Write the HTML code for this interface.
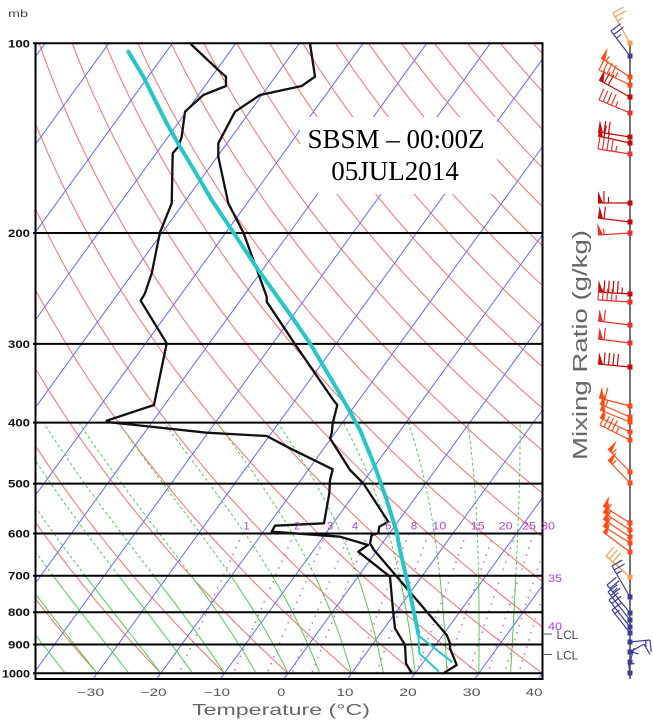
<!DOCTYPE html>
<html><head><meta charset="utf-8">
<style>html,body{margin:0;padding:0;background:#fff;}svg{display:block}</style>
</head>
<body>
<svg id="s" width="653" height="722" viewBox="0 0 653 722" xmlns="http://www.w3.org/2000/svg" font-family="Liberation Sans, DejaVu Sans, sans-serif">
<rect width="653" height="722" fill="#fff"/>
<defs><clipPath id="pc"><rect x="35" y="43" width="508" height="636"/></clipPath></defs>
<g id="bg" clip-path="url(#pc)" fill="none"></g>
<rect x="300" y="117" width="197" height="77" fill="#fff"/>

<g stroke="#000" stroke-width="2" fill="none">
<line x1="33" y1="43.3" x2="543" y2="43.3"/>
<line x1="33" y1="233" x2="543" y2="233"/>
<line x1="33" y1="343.9" x2="543" y2="343.9"/>
<line x1="33" y1="422.6" x2="543" y2="422.6"/>
<line x1="33" y1="483.6" x2="543" y2="483.6"/>
<line x1="33" y1="533.5" x2="543" y2="533.5"/>
<line x1="33" y1="575.7" x2="543" y2="575.7"/>
<line x1="33" y1="612.2" x2="543" y2="612.2"/>
<line x1="33" y1="644.5" x2="543" y2="644.5"/>
<line x1="33" y1="673.3" x2="543" y2="673.3"/>
<line x1="35" y1="679" x2="543" y2="679"/>
<line x1="35.5" y1="42.3" x2="35.5" y2="680"/>
<line x1="542.5" y1="42.3" x2="542.5" y2="680"/>
</g>

<g fill="none" stroke-linejoin="round" stroke-linecap="round">
<polyline stroke="#111" stroke-width="2.3" points="310,43.3 315,76.7 301.7,86 260,95 235,111.7 218.3,143.3 218.3,156.7 228.3,203.3 243.3,232.3 266.7,296.7 266.7,301.7 296.7,346.7 333.3,400 337.3,405 332.7,423.3 331.7,433.3 330,438.3 350,470 363.3,483.3 388.3,521.7 379.3,526.7 378.3,533.3 371.7,535 370,543.3 374,550 446.7,635 450,643.3 450,648.3 456.7,665 443.3,673.3"/>
<polyline stroke="#111" stroke-width="2.3" points="190,43.3 218.3,70 226,76.7 226,86 203.3,95 185,111.7 181.7,136.7 178.3,146.7 172.7,153.3 171.7,203.3 160,232.3 151.7,273.3 145,293.3 140.7,300.7 166.7,343.3 155,400 154,405 106.7,420.7 110,422.3 206.7,432.7 266.7,436 290,448.3 332.7,469.3 330,480 329.3,493.3 324,523.3 275,525.7 271.7,531.7 340,536.7 368,545 358.3,551.7 390,576.7 393.3,613.3 395,628.3 405,645 406,663.3 411.7,673.3"/>
<polyline stroke="#26c6c8" stroke-width="4" points="128.3,51.7 143.3,76.7 166.7,123.3 180,146.7 200,180 211.7,200 233.3,232.3 258.3,270 291.7,316.7 310,343.3 331.7,380 343.3,400 350,411.7 360,430 375,466.7 386.7,500 396.7,532 400,550 410,593.3 418.3,633.3"/>
<polyline stroke="#26c6c8" stroke-width="2" points="418.3,633.3 419.3,653.3 438.3,671"/>
<polyline stroke="#26c6c8" stroke-width="2" points="419,636 451.7,661.7"/>
</g>

<text x="396" y="148" font-family="Liberation Serif, serif" font-size="27" text-anchor="middle" fill="#000">SBSM – 00:00Z</text>
<text x="395" y="180" font-family="Liberation Serif, serif" font-size="27" text-anchor="middle" fill="#000">05JUL2014</text>

<g font-size="11" font-weight="bold" fill="#111" text-anchor="end">
<text x="30" y="47.5" textLength="22" lengthAdjust="spacingAndGlyphs">100</text>
<text x="30" y="237" textLength="22" lengthAdjust="spacingAndGlyphs">200</text>
<text x="30" y="348" textLength="22" lengthAdjust="spacingAndGlyphs">300</text>
<text x="30" y="426.6" textLength="22" lengthAdjust="spacingAndGlyphs">400</text>
<text x="30" y="487.6" textLength="22" lengthAdjust="spacingAndGlyphs">500</text>
<text x="30" y="537.5" textLength="22" lengthAdjust="spacingAndGlyphs">600</text>
<text x="30" y="579.7" textLength="22" lengthAdjust="spacingAndGlyphs">700</text>
<text x="30" y="616.2" textLength="22" lengthAdjust="spacingAndGlyphs">800</text>
<text x="30" y="648.5" textLength="22" lengthAdjust="spacingAndGlyphs">900</text>
<text x="30" y="677.3" textLength="28" lengthAdjust="spacingAndGlyphs">1000</text>
</g>
<text x="8" y="17" font-size="10" fill="#444" textLength="20" lengthAdjust="spacingAndGlyphs">mb</text>

<g font-size="11" fill="#555" text-anchor="middle">
<text x="90.7" y="696" textLength="27" lengthAdjust="spacingAndGlyphs">−30</text>
<text x="153.7" y="696" textLength="26" lengthAdjust="spacingAndGlyphs">−20</text>
<text x="217" y="696" textLength="26" lengthAdjust="spacingAndGlyphs">−10</text>
<text x="281.3" y="696" textLength="8" lengthAdjust="spacingAndGlyphs">0</text>
<text x="345" y="696" textLength="17" lengthAdjust="spacingAndGlyphs">10</text>
<text x="408" y="696" textLength="17.5" lengthAdjust="spacingAndGlyphs">20</text>
<text x="471.7" y="696" textLength="18" lengthAdjust="spacingAndGlyphs">30</text>
<text x="534.2" y="696" textLength="17" lengthAdjust="spacingAndGlyphs">40</text>
</g>
<text x="192" y="715" font-size="16" fill="#666" textLength="178" lengthAdjust="spacingAndGlyphs">Temperature (°C)</text>
<text transform="translate(587,345) rotate(-90)" text-anchor="middle" font-size="20" fill="#666" textLength="230" lengthAdjust="spacingAndGlyphs">Mixing Ratio (g/kg)</text>

<g font-size="11" fill="#b23ee0" text-anchor="middle">
<text x="246.5" y="529.5">1</text>
<text x="297" y="529.5">2</text>
<text x="330" y="529.5">3</text>
<text x="355" y="529.5">4</text>
<text x="388.3" y="529.5">5</text>
<text x="414" y="529.5">8</text>
<text x="439.3" y="529.5" textLength="14" lengthAdjust="spacingAndGlyphs">10</text>
<text x="477.7" y="529.5" textLength="14" lengthAdjust="spacingAndGlyphs">15</text>
<text x="505.7" y="529.5" textLength="14" lengthAdjust="spacingAndGlyphs">20</text>
<text x="529" y="529.5" textLength="14" lengthAdjust="spacingAndGlyphs">25</text>
<text x="548" y="529.5" textLength="14" lengthAdjust="spacingAndGlyphs">30</text>
<text x="555" y="582" textLength="14" lengthAdjust="spacingAndGlyphs">35</text>
<text x="555" y="630" textLength="14" lengthAdjust="spacingAndGlyphs">40</text>
</g>

<g stroke="#555" stroke-width="1">
<line x1="543" y1="634" x2="552" y2="634"/>
<line x1="543" y1="654.5" x2="552" y2="654.5"/>
</g>
<g font-size="11.5" fill="#444">
<text x="556.5" y="639" textLength="21.7" lengthAdjust="spacingAndGlyphs">LCL</text>
<text x="556.5" y="659.3" textLength="21.7" lengthAdjust="spacingAndGlyphs">LCL</text>
</g>

<g id="wb"></g>
</svg>
<script>
(function(){
var Y=function(p){return 43.3+273.6*Math.log(p/100);};
var X=function(T,p){return 288+6.36*T+0.725*(673.3-Y(p));};
var f=function(v){return v.toFixed(1);};
var h='';
var th,p,T,a;
for(th=-50;th<=220;th+=10){
  a=[];
  for(p=100;p<=1000;p+=10){T=(th+273.15)*Math.pow(p/1000,0.2857)-273.15;a.push(f(X(T,p))+','+f(Y(p)));}
  h+='<polyline points="'+a.join(' ')+'" stroke="#ff6c6c" stroke-width="1" fill="none"/>';
}
for(T=-120;T<=40;T+=10){
  h+='<line x1="'+f(X(T,100))+'" y1="'+f(Y(100))+'" x2="'+f(X(T,1030))+'" y2="'+f(Y(1030))+'" stroke="#5c6cfc" stroke-width="1"/>';
}
var es=function(t){return 6.112*Math.exp(17.67*t/(t+243.5));};
function dT(T,p){var Rd=287.04,cp=1005.7,L=2.501e6,e=0.622;var E=es(T-273.15);var r=e*E/(p-E);return ((Rd*T+L*r)/p)/(cp+L*L*r*e/(Rd*T*T));}
for(var tw=-45;tw<=40;tw+=5){
  var TT=tw+273.15,pp=1000,lo=[],up=[];
  var add=function(){var s=f(X(TT-273.15,pp))+','+f(Y(pp)); if(pp>=700)lo.push(s); if(pp<=700)up.push(s);};
  add();
  while(pp>400){var dp=-2;var k1=dT(TT,pp);var k2=dT(TT+k1*dp/2,pp+dp/2);TT+=k2*dp;pp+=dp;if(pp%10===0)add();}
  h+='<polyline points="'+lo.join(' ')+'" stroke="#4cd04c" stroke-width="1" fill="none"/>';
  h+='<polyline points="'+up.join(' ')+'" stroke="#4cd04c" stroke-width="1" fill="none" stroke-dasharray="3 2.5"/>';
}
var ws=[1,2,3,4,5,8,10,15,20,25,30,35,40];
for(var i=0;i<ws.length;i++){
  var w=ws[i];a=[];
  for(p=600;p<=1000;p+=20){var e=w*p/(622+w);var l=Math.log(e/6.112);T=243.5*l/(17.67-l);a.push(f(X(T,p))+','+f(Y(p)));}
  h+='<polyline points="'+a.join(' ')+'" stroke="#c864f0" stroke-width="1.6" fill="none" stroke-dasharray="1.4 6"/>';
}
document.getElementById('bg').innerHTML=h;

var O='#ff9a4a',N='#3c3c9c',OR='#ff4a14',R='#e83232',DR='#c20a0a';
var B=[
[43,613,13,25,O],[56,611,31,25,N],[77,601,58,55,OR],[85,599,70,45,OR],[97,599,80,70,DR],
[113,599,100,45,R],[137,598,132,70,DR],[143,598,136,65,DR],[154,598,149,45,R],
[203,598,203,65,DR],[222,598,218,60,DR],[233,598,235,55,R],
[294,598,292,95,DR],[302,598,300,45,R],[325,598,321,60,R],[343,598,339,60,R],[367,598,364,90,DR],
[406,599,398,60,OR],[417,600,404,55,OR],[422,600,410,50,OR],[432,600,418,50,OR],[440,600,425,45,OR],
[472,608,449,55,OR],[483,608,460,55,OR],
[523,603,506,55,OR],[530,603,512,55,OR],[537,603,519,55,OR],[543,603,526,50,OR],[552,603,532,50,OR],
[577,606,556,35,O],[597,612,566,25,N],[613,607,585,25,N],[620,608,592,20,N],[627,609,600,20,N],
[633,612,610,15,N],[642,650,640,15,N],[652,644,644,10,N],[662,634,648,5,N],[673,628,660,5,N]
];
var b='<line x1="630" y1="42" x2="630" y2="679" stroke="#444" stroke-width="1.5"/>';
for(var j=0;j<B.length;j++){
  var y=B[j][0],tx=B[j][1],ty=B[j][2],s=B[j][3],c=B[j][4];
  var dx=tx-630,dy=ty-y;var Ln=Math.hypot(dx,dy);dx/=Ln;dy/=Ln;var px=-dy,py=dx;
  b+='<line x1="630" y1="'+y+'" x2="'+tx+'" y2="'+ty+'" stroke="'+c+'" stroke-width="1.2"/>';
  var v=Math.round(s/5)*5,pos=0,FL=12,ax,ay;
  while(v>=50){ax=tx-dx*pos;ay=ty-dy*pos;var bx=tx-dx*(pos+5),by=ty-dy*(pos+5);
    b+='<polygon points="'+f(ax)+','+f(ay)+' '+f(ax+px*FL)+','+f(ay+py*FL)+' '+f(bx)+','+f(by)+'" fill="'+c+'"/>';pos+=6;v-=50;}
  while(v>=10){ax=tx-dx*pos;ay=ty-dy*pos;
    b+='<line x1="'+f(ax)+'" y1="'+f(ay)+'" x2="'+f(ax+px*FL)+'" y2="'+f(ay+py*FL)+'" stroke="'+c+'" stroke-width="1.2"/>';pos+=4.5;v-=10;}
  if(v>=5){if(pos===0)pos=4.5;ax=tx-dx*pos;ay=ty-dy*pos;
    b+='<line x1="'+f(ax)+'" y1="'+f(ay)+'" x2="'+f(ax+px*FL/2)+'" y2="'+f(ay+py*FL/2)+'" stroke="'+c+'" stroke-width="1.2"/>';}
  b+='<rect x="627.5" y="'+(y-2.5)+'" width="5" height="5" fill="'+c+'"/>';
}
document.getElementById('wb').innerHTML=b;
})();
</script>
</body></html>
